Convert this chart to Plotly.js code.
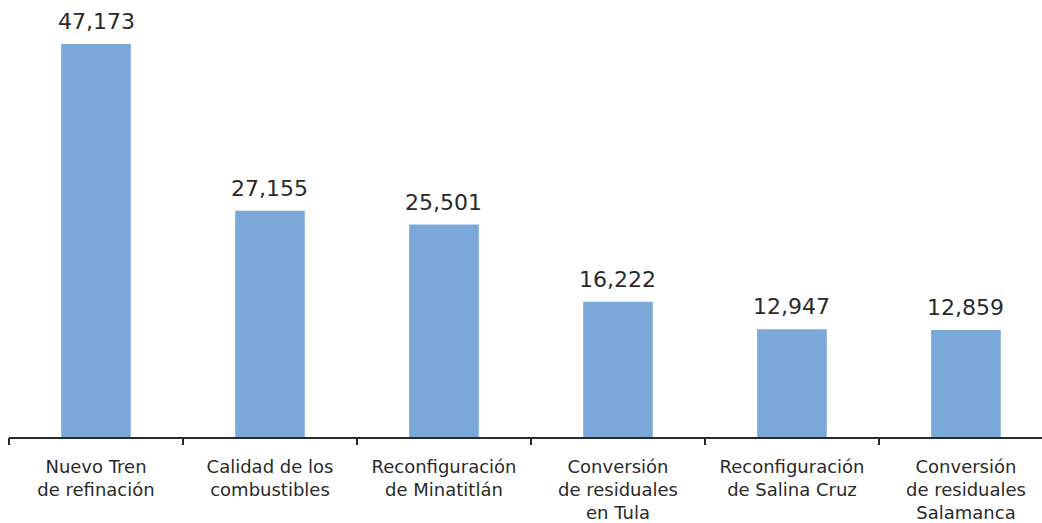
<!DOCTYPE html>
<html><head><meta charset="utf-8">
<script src="https://cdn.plot.ly/plotly-3.0.1.min.js"></script>
<style>html,body{margin:0;padding:0;background:#fff}</style>
</head><body>
<div id="chart" style="width:1042px;height:523px"></div>
<script>
const categories = [
  "Nuevo Tren<br>de refinación",
  "Calidad de los<br>combustibles",
  "Reconfiguración<br>de Minatitlán",
  "Conversión<br>de residuales<br>en Tula",
  "Reconfiguración<br>de Salina Cruz",
  "Conversión<br>de residuales<br>Salamanca"
];
const values = [47173, 27155, 25501, 16222, 12947, 12859];
const valueLabels = ["47,173", "27,155", "25,501", "16,222", "12,947", "12,859"];

const FONT = '"DejaVu Sans", Roboto, sans-serif';
const xs = categories.map((c, i) => i);

const trace = {
  type: 'bar',
  x: xs,
  y: values,
  marker: {color: 'rgb(122,168,216)'},
  width: 0.4,
  hoverinfo: 'none'
};
const annotations = values.map((v, i) => ({
  x: xs[i], y: v, xref: 'x', yref: 'y',
  text: valueLabels[i], showarrow: false,
  yanchor: 'bottom', xanchor: 'center', yshift: 8,
  font: {family: FONT, size: 22, color: '#2a2a2a'}
}));
const layout = {
  width: 1042, height: 523,
  margin: {l: 9, r: 0, t: 0, b: 86},
  paper_bgcolor: '#ffffff', plot_bgcolor: '#ffffff',
  showlegend: false,
  annotations: annotations,
  xaxis: {
    type: 'linear',
    range: [-0.5, 5.437],
    tickmode: 'array',
    tickvals: xs,
    ticktext: categories,
    showgrid: false, zeroline: false,
    showline: true, linecolor: '#2a2a2a', linewidth: 2,
    ticks: '',
    tickfont: {family: FONT, size: 18, color: '#2a2a2a'},
    ticklabelstandoff: 12
  },
  xaxis2: {
    overlaying: 'x', matching: 'x', type: 'linear',
    range: [-0.5, 5.437],
    tickmode: 'array',
    tickvals: [-0.5, 0.5, 1.5, 2.5, 3.5, 4.5],
    showticklabels: false,
    ticks: 'outside', ticklen: 7, tickwidth: 2, tickcolor: '#2a2a2a',
    showgrid: false, zeroline: false, showline: false,
    anchor: 'y'
  },
  yaxis: {
    range: [0, 52460],
    visible: false, showgrid: false, zeroline: false, fixedrange: true
  }
};
const dummy = {type: 'scatter', x: [0], y: [0], xaxis: 'x2', mode: 'markers', marker: {opacity: 0}, hoverinfo: 'none'};
Plotly.newPlot('chart', [trace, dummy], layout, {displayModeBar: false, staticPlot: true});
</script>
</body></html>
